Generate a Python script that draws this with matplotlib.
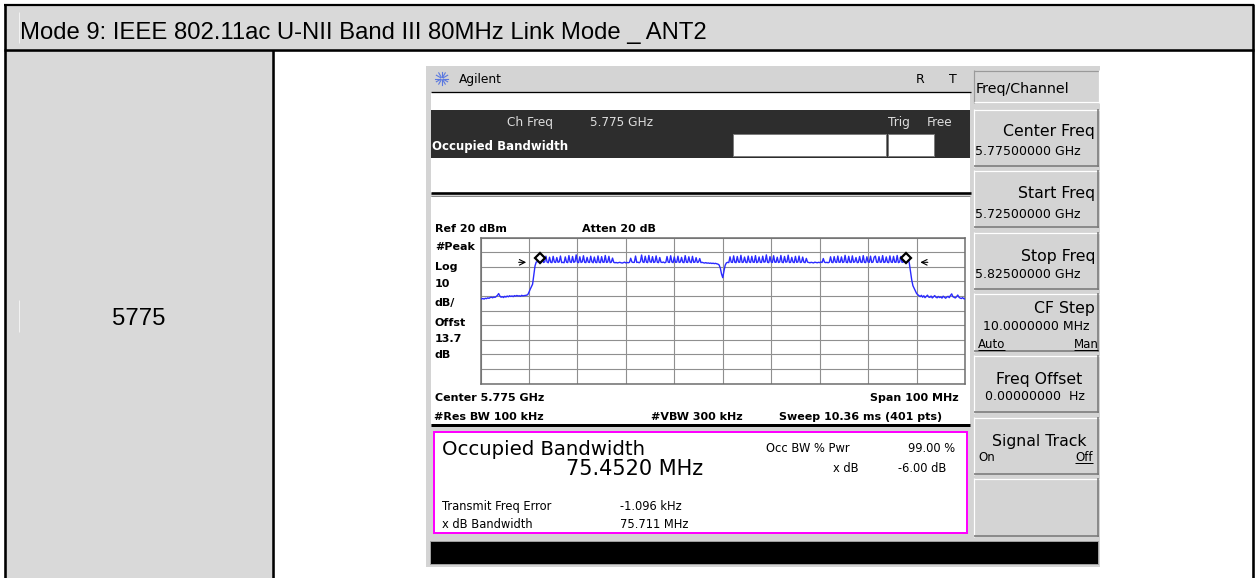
import matplotlib
matplotlib.use('Agg')
import matplotlib.pyplot as plt
from matplotlib.patches import Rectangle
import numpy as np

W, H = 1259, 578

title = 'Mode 9: IEEE 802.11ac U-NII Band III 80MHz Link Mode _ ANT2'
channel = '5775'

# analyzer settings
center_ghz = '5.775'
span_mhz = 100
ref_dbm = 20
db_per_div = 10
atten_db = 20
offset_db = '13.7'
rbw = '100 kHz'
vbw = '300 kHz'
sweep = '10.36 ms (401 pts)'

# trace, 401 pts, dBm
floor_left = [-22.3, -22.0, -21.8, -22.2, -21.6, -21.9, -21.3, -21.7, -21.1, -20.9,
              -21.3, -20.8, -21.0, -20.4, -19.6, -18.4, -20.1, -20.9, -20.5, -21.1,
              -20.3, -20.8, -20.1, -20.6, -19.9, -20.4, -20.0, -20.5, -19.8, -20.2,
              -19.7, -20.1, -19.9, -20.3, -19.6, -20.0, -19.8, -19.7, -19.5]
rise = [-19.2, -17.5, -15.5, -13.8, -12.0, -6.0, 0.5, 3.2]
band_left = [3.4, 7.4, 3.0, 2.8, 6.8, 2.9, 3.3, 7.2, 3.1, 2.7,
             6.5, 3.0, 2.8, 7.1, 3.2, 2.9, 6.3, 3.0, 3.3, 7.3,
             2.8, 3.0, 2.7, 6.7, 3.1, 2.8, 7.6, 3.2, 2.9, 7.0,
             3.0, 3.4, 8.1, 3.1, 2.8, 6.8, 2.9, 3.3, 7.5, 3.0,
             2.8, 6.4, 3.1, 2.9, 7.2, 3.3, 2.7, 6.6, 3.0, 2.8,
             7.4, 3.0, 2.8, 6.9, 3.1, 3.0, 7.7, 2.9, 3.2, 7.1,
             2.8, 3.1, 5.9, 3.0, 2.7, 2.9, 2.6, 2.8, 3.0, 2.7,
             2.5, 2.8, 3.1, 2.6, 2.9, 2.7, 3.0, 5.8, 3.2, 2.9,
             3.0, 7.3, 2.9, 3.1, 2.7, 3.4, 8.0, 3.2, 2.9, 7.2,
             3.1, 2.8, 7.7, 3.3, 3.0, 6.9, 2.9, 3.2, 7.4, 3.0,
             2.8, 6.3, 3.1, 2.9, 3.2, 2.7, 3.0, 7.0, 3.1, 2.9,
             7.5, 3.2, 2.8, 6.7, 3.0, 3.1, 7.2, 2.9, 3.2, 6.4,
             3.0, 2.8, 7.6, 3.1, 2.9, 6.8, 3.2, 2.8, 7.1, 3.0,
             3.1, 6.2, 2.9, 3.2, 5.6, 2.8, 3.0, 2.7, 2.5, 2.8,
             2.4, 2.6, 2.3, 2.5, 2.2, 2.4, 2.1, 2.3]
dip = [2.0, 1.8, 1.2, -1.0, -5.0, -7.5, -3.0, 1.0, 2.6, 3.0, 2.8]
band_right = [6.8, 3.1, 2.9, 7.4, 3.0, 2.8, 7.0, 3.2, 3.0, 7.8,
              2.9, 3.1, 6.6, 3.0, 2.8, 7.3, 3.2, 2.9, 7.1, 3.1,
              3.0, 7.6, 2.8, 3.2, 6.7, 3.0, 2.9, 7.2, 3.1, 3.3,
              8.1, 3.0, 2.8, 6.9, 3.2, 2.9, 7.5, 3.1, 3.0, 6.5,
              2.9, 3.2, 7.7, 3.0, 2.8, 7.0, 3.1, 3.3, 7.9, 2.9,
              3.0, 6.4, 3.1, 2.8, 7.1, 3.0, 3.2, 7.3, 2.9, 3.1,
              6.6, 3.0, 2.8, 5.7, 3.1, 2.9, 2.7, 3.0, 2.8, 2.6,
              3.1, 2.9, 2.7, 3.0, 2.8, 3.2, 2.9, 5.6, 3.1, 2.8,
              3.0, 2.7, 3.1, 6.8, 3.0, 2.8, 6.9, 3.2, 2.9, 7.3,
              3.0, 3.1, 6.7, 2.9, 3.2, 7.8, 3.0, 2.8, 7.1, 3.1,
              2.9, 7.4, 3.0, 3.3, 6.3, 2.8, 3.0, 7.0, 3.1, 2.9,
              7.6, 3.0, 2.8, 6.8, 3.2, 3.0, 7.2, 2.9, 3.1, 6.5,
              7.3, 3.1, 2.9, 6.9, 3.0, 3.2, 7.6, 2.9, 3.1, 6.7,
              3.0, 2.8, 7.4, 3.2, 2.9, 7.1, 3.1, 3.0, 7.7, 2.8,
              3.2, 7.0, 3.0, 3.1, 7.9, 3.3, 3.4, 5.8]
fall = [2.5, -3.0, -9.0, -13.0, -14.8, -16.5, -18.3, -19.2]
floor_right = [-19.8, -20.5, -19.6, -20.9, -19.9, -21.2, -20.3, -19.5, -20.8, -21.0,
               -20.1, -21.4, -20.6, -19.8, -20.9, -21.3, -20.4, -21.1, -20.7, -21.5,
               -20.2, -20.9, -21.6, -20.8, -20.3, -21.2, -19.7, -18.6, -20.5, -21.0,
               -21.4, -20.6, -19.4, -20.9, -21.5, -21.8, -21.2, -21.9, -22.1]
trace = floor_left + rise + band_left + dip + band_right + fall + floor_right

marker_mhz = [-37.73, 37.72]
marker_dbm = [6.2, 6.2]

obw = '75.4520 MHz'
occ_pwr = '99.00 %'
x_db = '-6.00 dB'
freq_err = '-1.096 kHz'
xdb_bw = '75.711 MHz'

softkey_titles = ['Center Freq', 'Start Freq', 'Stop Freq', 'CF Step',
                  'Freq Offset', 'Signal Track', '']
softkey_values = ['5.77500000 GHz', '5.72500000 GHz', '5.82500000 GHz',
                  '10.0000000 MHz', '0.00000000  Hz', '', '']
softkey_opts = [None, None, None, ('Auto', 'Man'), None, ('On', 'Off'), None]

PX = 0.72  # points per pixel at dpi 100

fig = plt.figure(figsize=(W / 100, H / 100), dpi=100)
bg = fig.add_axes([0, 0, 1, 1])
bg.set_xlim(0, W)
bg.set_ylim(H, 0)
bg.axis('off')


def rect(x0, y0, x1, y1, fc, ec='none', lw=0, z=1):
    bg.add_patch(Rectangle((x0, y0), x1 - x0, y1 - y0, facecolor=fc,
                           edgecolor=ec, linewidth=lw * PX, zorder=z))


def hline(y, x0, x1, c, lw, z=3):
    bg.plot([x0, x1], [y, y], color=c, lw=lw * PX, zorder=z, solid_capstyle='butt')


def vline(x, y0, y1, c, lw, z=3):
    bg.plot([x, x], [y0, y1], color=c, lw=lw * PX, zorder=z, solid_capstyle='butt')


def txt(x, y, s, size, ha='left', color='black', weight='normal',
        family='DejaVu Sans', z=5):
    # y is the middle of the capitals
    base = y + 0.36 * size * 100 / 72
    return bg.text(x, base, s, fontsize=size, ha=ha, va='baseline', color=color,
                   fontweight=weight, family=family, zorder=z)


# ---- table ----
rect(5, 5, 1252, 49, '#d9d9d9')
rect(5, 50, 272, H, '#d9d9d9')
hline(5, 4, 1254, 'black', 2.2)
hline(49.8, 4, 1254, 'black', 2.6)
vline(5, 4, H, 'black', 2.6)
vline(273, 50, H, 'black', 2.6)
vline(1252.8, 4, H, 'black', 2.6)
vline(19.3, 12, 43, '#f2f2f2', 1)
vline(19.3, 300, 332, '#f2f2f2', 1)
txt(20.5, 30.5, title, 17.2, family='Liberation Sans')
txt(139, 316.5, channel, 17.2, ha='center', family='Liberation Sans')

# ---- analyzer screen ----
rect(426.5, 66, 1100.5, 567, '#d4d4d4')
for ang in np.arange(0, 360, 30):
    a = np.deg2rad(ang)
    bg.plot([442 + 1.5 * np.cos(a), 442 + 6.5 * np.cos(a)],
            [78.5 + 1.5 * np.sin(a), 78.5 + 6.5 * np.sin(a)],
            color='#5a78e0', lw=0.8, zorder=4)
txt(458.6, 78.3, 'Agilent', 8.8)
txt(916, 78.3, 'R', 9)
txt(948.6, 78.3, 'T', 9)

rect(431.5, 92, 970, 193, 'white')
rect(431.5, 110, 970, 158, '#2d2d2d')
hline(91.5, 431.5, 971.5, 'black', 1.3)
hline(192.8, 431.5, 971.5, 'black', 2.6)
hline(196.3, 431.5, 970, '#8a8a8a', 1)
rect(733, 134, 886, 155.7, 'white', ec='#7c7c7c', lw=1, z=2)
rect(888, 134, 934.3, 155.7, 'white', ec='#7c7c7c', lw=1, z=2)
txt(506.8, 121.7, 'Ch Freq', 8.7, color='#dcdcdc')
txt(589.6, 121.7, center_ghz + ' GHz', 8.7, color='#dcdcdc')
txt(887.9, 121.7, 'Trig', 8.7, color='#dcdcdc')
txt(927, 121.7, 'Free', 8.7, color='#dcdcdc')
txt(432.5, 146, 'Occupied Bandwidth', 8.5, weight='bold', color='white')

rect(431.5, 197, 970, 424, 'white')
hline(425.3, 431.5, 970, 'black', 3)

lab = dict(size=8, weight='bold')
txt(435, 228.3, f'Ref {ref_dbm} dBm', **lab)
txt(582.5, 228.3, f'Atten {atten_db} dB', **lab)
side = ['#Peak', 'Log', str(db_per_div), 'dB/', 'Offst', offset_db, 'dB']
for s, y in zip(side, [245.7, 265.7, 283.3, 302.3, 321.7, 337.7, 354.3]):
    txt(435, y, s, **lab)
txt(435, 396.7, f'Center {center_ghz} GHz', **lab)
txt(959, 396.7, f'Span {span_mhz} MHz', ha='right', **lab)
txt(433.6, 416, f'#Res BW {rbw}', **lab)
txt(651.4, 416, f'#VBW {vbw}', **lab)
txt(779, 416, f'Sweep {sweep}', **lab)

# spectrum graticule
gx0, gx1, gy0, gy1 = 480.5, 965, 237.5, 383.5
ax = fig.add_axes([gx0 / W, 1 - gy1 / H, (gx1 - gx0) / W, (gy1 - gy0) / H])
freq = np.linspace(-span_mhz / 2, span_mhz / 2, len(trace))
ax.set_xlim(-span_mhz / 2, span_mhz / 2)
ax.set_ylim(ref_dbm - 10 * db_per_div, ref_dbm)
ax.set_xticks(np.arange(-span_mhz / 2, span_mhz / 2 + 1, span_mhz / 10))
ax.set_yticks(np.arange(ref_dbm - 10 * db_per_div, ref_dbm + 1, db_per_div))
ax.tick_params(length=0, labelbottom=False, labelleft=False)
ax.grid(True, color='#8f8f8f', lw=0.8)
for sp in ax.spines.values():
    sp.set_color('#6e6e6e')
    sp.set_linewidth(1.1)
ax.plot(freq, trace, color='#2a2aff', lw=1.0, zorder=3)
ax.plot(marker_mhz, marker_dbm, 'D', ms=5.5, mfc='white', mec='black', mew=1.6,
        zorder=4, clip_on=False)
ax.annotate('', xy=(-40.0, 3.0), xytext=(-42.7, 3.0),
            arrowprops=dict(arrowstyle='->', lw=0.8, color='black'))
ax.annotate('', xy=(40.2, 3.0), xytext=(42.9, 3.0),
            arrowprops=dict(arrowstyle='->', lw=0.8, color='black'))

# result box
rect(433.6, 431.7, 967, 533.3, 'white', ec='#ff00ff', lw=2, z=2)
txt(442, 448.3, 'Occupied Bandwidth', 14.2)
txt(566.4, 467.5, obw, 15)
txt(766, 447.7, 'Occ BW % Pwr', 8.3)
txt(955, 447.7, occ_pwr, 8.3, ha='right')
txt(859, 467.7, 'x dB', 8.3, ha='right')
txt(946.8, 467.7, x_db, 8.3, ha='right')
txt(442, 505.7, 'Transmit Freq Error', 8.3)
txt(620, 505.7, freq_err, 8.3)
txt(442, 524.3, 'x dB Bandwidth', 8.3)
txt(620, 524.3, xdb_bw, 8.3)

rect(430, 541, 1098.5, 564, 'black', ec='#a0a0a0', lw=1, z=2)

# softkeys
sx0, sx1 = 974, 1099.3
rect(sx0, 70, sx1, 102.7, '#d4d4d4', z=2)
hline(70.5, sx0, sx1, '#9a9a9a', 1.2)
vline(sx0 + 0.5, 70, 102.7, '#9a9a9a', 1.2)
hline(102.2, sx0, sx1, 'white', 1.2)
vline(sx1 - 0.5, 70, 102.7, 'white', 1.2)
txt(975.5, 88.3, 'Freq/Channel', 10.3)

key_y = [(109, 167), (170, 228), (232, 290), (293, 352), (355, 413), (417, 475), (478, 537)]
title_dy = [21, 22.7, 23.3, 14, 23.3, 23.3, 0]
value_dy = [41.4, 43.3, 41.6, 32.3, 40, 0, 0]
title_x = [1095, 1095, 1095, 1095, 1082, 1087, 0]
value_x = [975, 975, 975, 982.7, 985, 0, 0]
underlined = []
for i, (y0, y1) in enumerate(key_y):
    rect(sx0, y0, sx1, y1, '#d4d4d4', z=2)
    hline(y0 + 0.5, sx0, sx1, 'white', 1.2)
    vline(sx0 + 0.5, y0, y1, 'white', 1.2)
    hline(y1 - 0.8, sx0, sx1, '#7a7a7a', 1.6)
    vline(sx1 - 0.8, y0, y1, '#7a7a7a', 1.6)
    if softkey_titles[i]:
        txt(title_x[i], y0 + title_dy[i], softkey_titles[i], 11.3, ha='right')
    if softkey_values[i]:
        txt(value_x[i], y0 + value_dy[i], softkey_values[i], 9)
    if softkey_opts[i]:
        oy = y0 + (50.6 if i == 3 else 40)
        left, right = softkey_opts[i]
        t1 = txt(978, oy, left, 8.5)
        t2 = txt(1098.5 if i == 3 else 1093, oy, right, 8.5, ha='right')
        if left == 'Auto':
            underlined.append(t1)
        underlined.append(t2)

fig.canvas.draw()
inv = bg.transData.inverted()
for t in underlined:
    bb = t.get_window_extent()
    (x0, _), (x1, _) = inv.transform(bb.get_points())
    yb = t.get_position()[1] + 1.8
    hline(yb, x0, x1, 'black', 1, z=6)

fig.savefig('out.png', dpi=100)
